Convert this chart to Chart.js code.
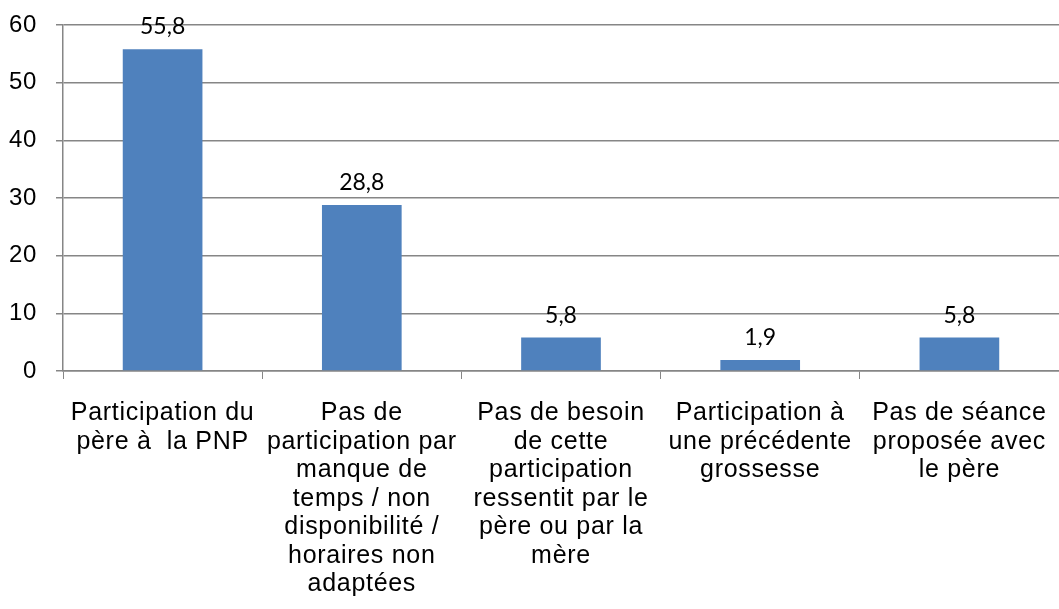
<!DOCTYPE html>
<html>
<head>
<meta charset="utf-8">
<script src="https://cdn.jsdelivr.net/npm/chart.js@4"></script>
<style>
  html, body { margin: 0; padding: 0; background: #fff; }
  #wrap { width: 1059px; height: 609px; }
</style>
</head>
<body>
<div id="wrap"><canvas id="myChart" width="1059" height="609"></canvas></div>
<script>
// categories, split on the lines used in the original
var categories = [
	["Participation du", "père à  la PNP"],
	["Pas de", "participation par", "manque de", "temps / non", "disponibilité /", "horaires non", "adaptées"],
	["Pas de besoin", "de cette", "participation", "ressentit par le", "père ou par la", "mère"],
	["Participation à", "une précédente", "grossesse"],
	["Pas de séance", "proposée avec", "le père"]
];
var values = [55.8, 28.8, 5.8, 1.9, 5.8];
var yTicks = [0, 10, 20, 30, 40, 50, 60];

var gridColor = '#868686';

// the original text is a little wider spaced than Liberation Sans
const spacingPlugin = {
	id: 'letter_spacing',
	beforeLayout: (chart) => { chart.ctx.letterSpacing = '0.7px'; },
	beforeDraw: (chart) => { chart.ctx.letterSpacing = '0.7px'; }
};

const labelsPlugin = {
	id: 'bar_value_labels',
	afterDatasetsDraw: (chart) => {
		const ctx = chart.ctx;
		ctx.save();
		ctx.letterSpacing = '0px';
		ctx.font = '23px Lato';
		ctx.fillStyle = '#000';
		ctx.textAlign = 'center';
		ctx.textBaseline = 'alphabetic';
		chart.getDatasetMeta(0).data.forEach((bar, i) => {
			var txt = String(values[i]).replace('.', ',');
			ctx.fillText(txt, bar.x, bar.y - 15);
		});
		ctx.restore();
	}
};

const config = {
	type: 'bar',
	data: {
		labels: categories,
		datasets: [{
			data: values,
			backgroundColor: '#4F81BD',
			borderWidth: 0,
			barPercentage: 0.4,
			categoryPercentage: 1.0
		}]
	},
	plugins: [spacingPlugin, labelsPlugin],
	options: {
		responsive: false,
		animation: false,
		devicePixelRatio: 1,
		layout: {
			padding: { left: 0, right: 0, top: 25, bottom: 0 }
		},
		plugins: {
			legend: { display: false },
			tooltip: { enabled: false }
		},
		scales: {
			x: {
				afterFit: (axis) => {
					axis.paddingLeft = 0;
					axis.paddingRight = 0;
					axis.height = 238;
				},
				grid: {
					offset: true,
					drawOnChartArea: false,
					drawTicks: true,
					tickLength: 8,
					color: gridColor
				},
				border: { display: true, color: gridColor, width: 1.5 },
				ticks: {
					color: '#000',
					maxRotation: 0,
					autoSkip: false,
					padding: 20,
					font: { family: 'Liberation Sans', size: 25, lineHeight: 1.14 }
				}
			},
			y: {
				min: 0,
				max: 60,
				afterBuildTicks: (axis) => {
					axis.ticks = yTicks.map(v => ({ value: v }));
				},
				afterFit: (axis) => {
					axis.width = 63;
					axis.paddingTop = 0;
					axis.paddingBottom = 0;
				},
				grid: {
					color: gridColor,
					lineWidth: 1.5,
					drawTicks: true,
					tickLength: 7
				},
				border: { display: true, color: gridColor, width: 1.5 },
				ticks: {
					color: '#000',
					padding: 19,
					font: { family: 'Liberation Sans', size: 24 }
				}
			}
		}
	}
};

const myChart = new Chart(
	document.getElementById('myChart'),
	config
);
</script>
</body>
</html>
